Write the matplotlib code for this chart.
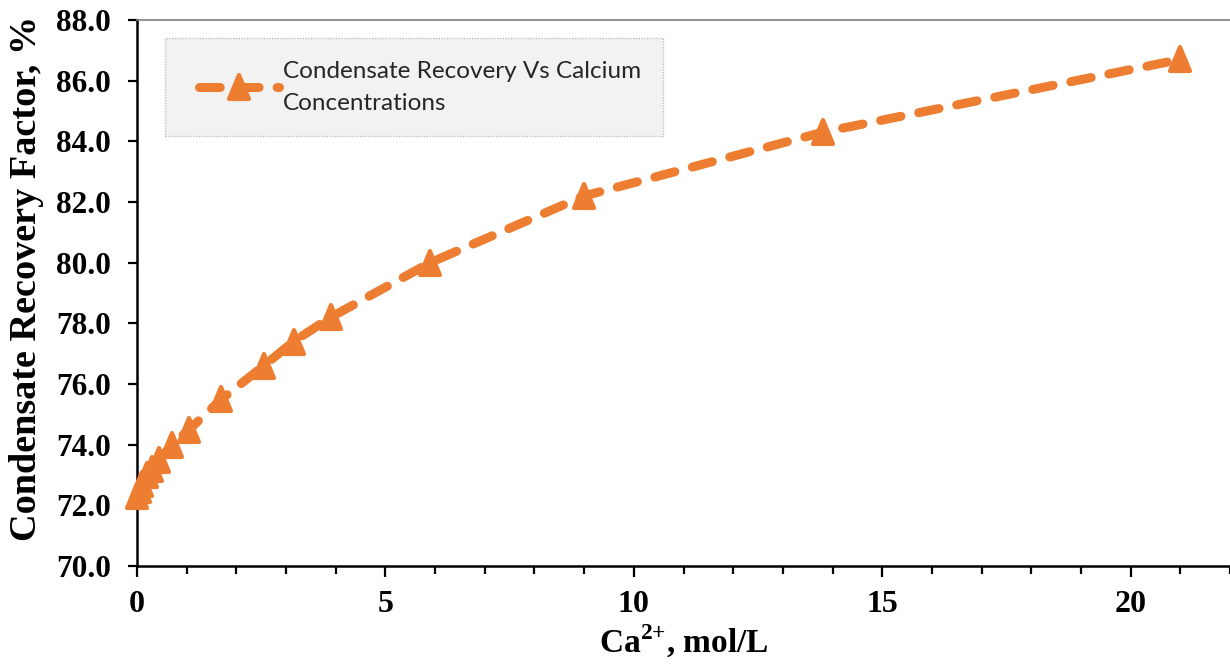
import matplotlib
matplotlib.use("Agg")
import matplotlib.pyplot as plt
from matplotlib.markers import MarkerStyle
from matplotlib.patches import Rectangle
from matplotlib.transforms import Affine2D
from matplotlib.ticker import MultipleLocator, FormatStrFormatter

# Calcium concentration (mol/L) and condensate recovery factor (%)
ca_conc = [0.0, 0.05, 0.1, 0.2, 0.3, 0.45, 0.7, 1.05, 1.7, 2.55, 3.15, 3.9, 5.9, 9.0, 13.8, 21.0]
recovery = [72.3, 72.5, 72.7, 73.0, 73.2, 73.5, 74.0, 74.5, 75.5, 76.6, 77.4, 78.2, 80.0, 82.2, 84.3, 86.7]
series_label = "Condensate Recovery Vs Calcium\nConcentrations"

orange = "#ED7D31"
serif = "Liberation Serif"

plt.rcParams["mathtext.fontset"] = "custom"
plt.rcParams["mathtext.rm"] = serif
plt.rcParams["mathtext.bf"] = serif + ":bold"

fig = plt.figure(figsize=(12.3, 6.67), dpi=100)
ax = fig.add_axes([0.1114, 0.1514, 0.8886, 0.8186])

# slightly tall triangle with rounded corners
tri = MarkerStyle("^", joinstyle="round", transform=Affine2D().scale(1.0, 1.15))
line, = ax.plot(ca_conc, recovery, color=orange, lw=6.5, dashes=(2.3, 2.0),
                dash_capstyle="round", solid_capstyle="round",
                marker=tri, markersize=14.5, markeredgewidth=3,
                markerfacecolor=orange, markeredgecolor=orange,
                clip_on=False, label=series_label, zorder=3)

ax.set_xlim(0, 22)
ax.set_ylim(70, 88)
ax.xaxis.set_major_locator(MultipleLocator(5))
ax.xaxis.set_minor_locator(MultipleLocator(1))
ax.yaxis.set_major_locator(MultipleLocator(2))
ax.yaxis.set_major_formatter(FormatStrFormatter("%.1f"))

ax.tick_params(axis="x", which="major", length=8, width=1.6, pad=9, direction="out")
ax.tick_params(axis="x", which="minor", length=6, width=1.6, direction="out")
ax.tick_params(axis="y", which="major", length=6.5, width=1.6, pad=12, direction="out")
for lab in ax.get_xticklabels():
    lab.set_fontfamily(serif)
    lab.set_fontweight("bold")
    lab.set_fontsize(23)
for lab in ax.get_yticklabels():
    lab.set_fontfamily(serif)
    lab.set_fontweight("bold")
    lab.set_fontsize(22.5)

for side in ["left", "bottom"]:
    ax.spines[side].set_linewidth(1.8)
    ax.spines[side].set_color("black")
ax.spines["top"].set_color("#7F7F7F")
ax.spines["top"].set_linewidth(1.2)
ax.spines["right"].set_visible(False)

ax.set_xlabel(r"Ca$^{\mathbf{2{+}}}$, mol/L", fontfamily=serif, fontweight="bold",
              fontsize=24, labelpad=3)
ax.set_ylabel("Condensate Recovery Factor, %", fontfamily=serif, fontweight="bold",
              fontsize=27.5)
ax.yaxis.set_label_coords(-0.085, 0.527)

# legend box
ax.add_patch(Rectangle((0.0256, 0.7875), 0.4556, 0.1795, transform=ax.transAxes,
                       facecolor="#F2F2F2", edgecolor="#BFBFBF", lw=1.0,
                       linestyle=(0, (1, 1)), zorder=2))
leg = ax.legend(loc="upper left", bbox_to_anchor=(0.048, 0.942), frameon=False,
                handlelength=3.3, handletextpad=0.15, borderaxespad=0,
                prop={"family": "Lato", "size": 17.5})
leg.set_zorder(4)
for t in leg.get_texts():
    t.set_linespacing(1.6)
    t.set_color("#262626")

fig.savefig("out.png", dpi=100)
